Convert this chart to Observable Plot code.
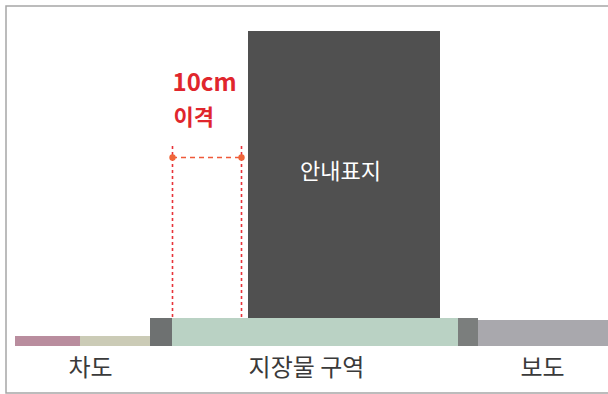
<!DOCTYPE html>
<html>
<head>
<meta charset="utf-8">
<script src="https://cdn.jsdelivr.net/npm/d3@7"></script>
<script src="https://cdn.jsdelivr.net/npm/@observablehq/plot@0.6"></script>
<style>
  html, body { margin: 0; padding: 0; background: #fff; }
  svg { display: block; }
</style>
</head>
<body>
<div id="chart"></div>
<script>
// ground strips along the section (diagram units = pixels across the section)
const stripNames = ["차도a", "차도b", "연석1", "지장물 구역", "연석2", "보도"];
const stripStart = [15, 80, 150, 172, 458, 478];
const stripEnd   = [80, 150, 172, 458, 478, 620];
const stripTop   = [336, 336, 318, 318, 318, 320];
const stripBottom = 346;
const stripColors = ["#b98d9e", "#cbcbb6", "#6e7171", "#bad2c4", "#7b7e7d", "#a9a8ad"];

// sign post block
const signName = "안내표지";
const signX = [248, 440];
const signY = [31, 318];

// clearance
const clearLabel = ["10cm", "이격"];
const clearX = [172, 241];
const clearTop = 146;
const clearDimY = 157;

// zone labels under the ground
const zoneLabels = ["차도", "지장물 구역", "보도"];
const zoneLabelX = [90, 306, 542];
const zoneLabelY = 368;

const strips = stripNames.map((n, i) => ({name: n, x1: stripStart[i], x2: stripEnd[i], y1: stripTop[i], y2: stripBottom, c: stripColors[i]}));
const font = "'Noto Sans CJK KR', 'Noto Sans', sans-serif";

const chart = Plot.plot({
  width: 608,
  height: 394,
  margin: 0,
  x: {domain: [0, 608], range: [0, 608], axis: null},
  y: {domain: [0, 394], range: [0, 394], axis: null},
  style: {fontFamily: font, background: "#fff"},
  marks: [
    Plot.rect([{}], {x1: 6, x2: 640, y1: 6, y2: 393, fill: "none", stroke: "#a6a6a6", strokeWidth: 1.5}),
    Plot.rect(strips, {x1: "x1", x2: "x2", y1: "y1", y2: "y2", fill: "c"}),
    Plot.rect([{}], {x1: signX[0], x2: signX[1], y1: signY[0], y2: signY[1], fill: "#505050"}),
    Plot.text([signName], {x: 340, y: 171, text: d => d, fill: "#ffffff", fontSize: 22}),
    Plot.ruleX(clearX, {x: d => d, y1: clearTop, y2: signY[1], stroke: "#e8333a", strokeWidth: 1.6, strokeDasharray: "3,3"}),
    Plot.ruleY([clearDimY], {y: d => d, x1: clearX[0], x2: clearX[1], stroke: "#ef5a3a", strokeWidth: 1.6, strokeDasharray: "5,4"}),
    Plot.dot(clearX, {x: d => d, y: clearDimY, r: 3.2, fill: "#f0663a", stroke: "none"}),
    Plot.text([clearLabel[0]], {x: 172, y: 83, text: d => d, textAnchor: "start", fill: "#e0262d", fontSize: 24, fontWeight: "bold"}),
    Plot.text([clearLabel[1]], {x: 173, y: 117, text: d => d, textAnchor: "start", fill: "#e0262d", fontSize: 22, fontWeight: "bold"}),
    Plot.text(zoneLabels, {x: (d, i) => zoneLabelX[i], y: zoneLabelY, text: d => d, fill: "#3a3a3a", fontSize: 24})
  ]
});
document.getElementById("chart").append(chart);
</script>
</body>
</html>
